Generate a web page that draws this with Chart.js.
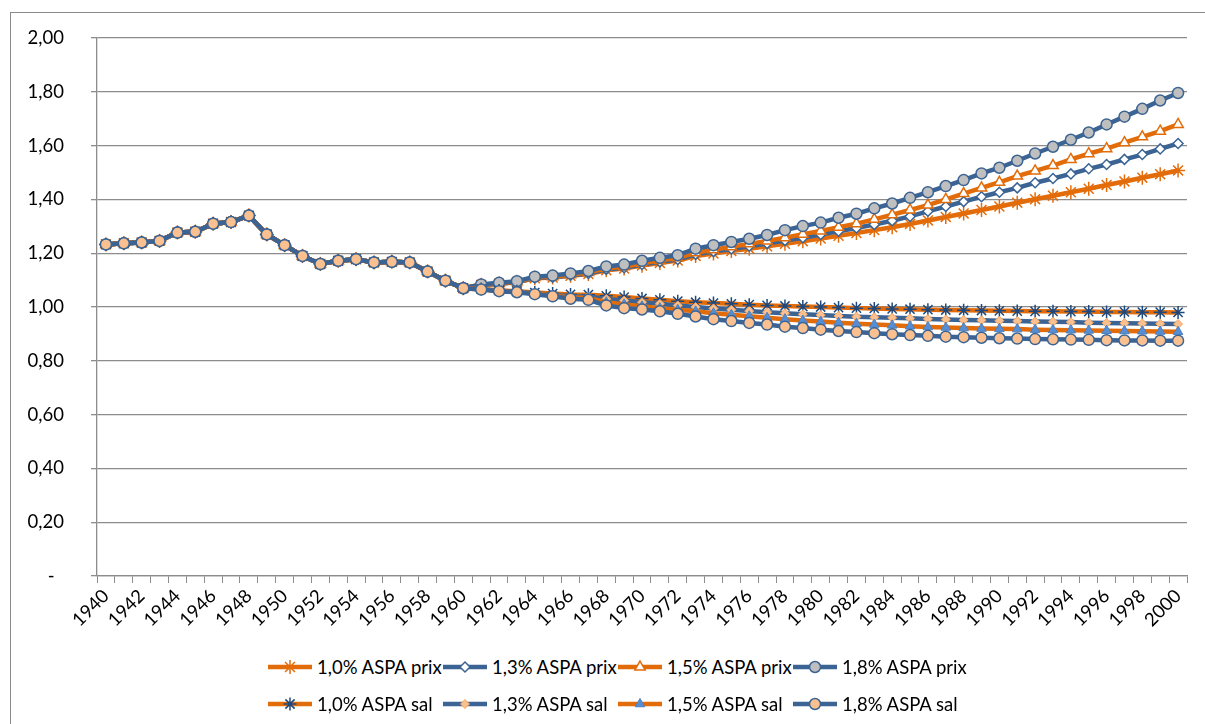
<!DOCTYPE html>
<html>
<head>
<meta charset="utf-8">
<script src="https://cdn.jsdelivr.net/npm/chart.js@4.4.0/dist/chart.umd.min.js"></script>
<style>
  body { margin:0; background:#fff; font-family: Lato, "Liberation Sans", sans-serif; }
  #wrap { position:relative; width:1205px; height:724px; overflow:hidden; }
  #frame { position:absolute; left:10px; top:12px; width:1200px; height:720px; border:1px solid #8a8a8a; box-sizing:border-box; }
  #chart { position:absolute; left:0; top:0; }
  #legend { position:absolute; left:268px; top:648px; width:720px; }
  .row { display:flex; height:37px; align-items:center; }
  .item { width:175px; display:flex; align-items:center; font-size:18.5px; color:#000; white-space:nowrap; }
  .item canvas { margin-right:5px; }
</style>
</head>
<body>
<div id="wrap">
  <div id="frame"></div>
  <canvas id="chart" width="1205" height="640"></canvas>
  <div id="legend"></div>
</div>
<script>
// années
const years = ["1940","1941","1942","1943","1944","1945","1946","1947","1948","1949",
  "1950","1951","1952","1953","1954","1955","1956","1957","1958","1959",
  "1960","1961","1962","1963","1964","1965","1966","1967","1968","1969",
  "1970","1971","1972","1973","1974","1975","1976","1977","1978","1979",
  "1980","1981","1982","1983","1984","1985","1986","1987","1988","1989",
  "1990","1991","1992","1993","1994","1995","1996","1997","1998","1999","2000"];

// 1940-1960, commun à toutes les séries
const base = [1.233,1.237,1.240,1.246,1.277,1.280,1.310,1.316,1.340,1.270,
  1.230,1.190,1.160,1.172,1.178,1.166,1.168,1.166,1.132,1.098,1.070];

// 1961-2000
const prix10 = [1.082,1.087,1.092,1.107,1.110,1.116,1.123,1.137,1.143,1.154,
  1.164,1.173,1.190,1.199,1.208,1.217,1.226,1.235,1.245,1.255,
  1.265,1.275,1.286,1.297,1.309,1.322,1.335,1.348,1.361,1.374,
  1.388,1.401,1.414,1.427,1.440,1.454,1.467,1.481,1.494,1.508];
const prix13 = [1.082,1.087,1.093,1.108,1.111,1.118,1.125,1.140,1.146,1.158,
  1.168,1.177,1.196,1.206,1.216,1.226,1.236,1.247,1.258,1.270,
  1.282,1.294,1.307,1.321,1.337,1.356,1.374,1.392,1.410,1.427,
  1.443,1.462,1.478,1.495,1.514,1.530,1.549,1.567,1.588,1.608];
const prix15 = [1.083,1.088,1.094,1.110,1.113,1.120,1.128,1.144,1.150,1.163,
  1.173,1.183,1.202,1.213,1.224,1.235,1.246,1.258,1.271,1.283,
  1.297,1.310,1.326,1.343,1.361,1.379,1.400,1.422,1.443,1.464,
  1.487,1.506,1.526,1.549,1.570,1.589,1.611,1.633,1.654,1.679];
const prix18 = [1.084,1.090,1.096,1.113,1.117,1.125,1.134,1.151,1.158,1.172,
  1.183,1.193,1.217,1.230,1.242,1.254,1.268,1.286,1.301,1.314,
  1.332,1.347,1.367,1.385,1.406,1.427,1.450,1.472,1.497,1.518,
  1.544,1.571,1.596,1.622,1.649,1.679,1.708,1.737,1.768,1.796];
const sal10 = [1.067,1.062,1.059,1.054,1.050,1.047,1.046,1.042,1.037,1.032,
  1.027,1.022,1.018,1.015,1.012,1.009,1.006,1.004,1.002,1.000,
  0.998,0.996,0.995,0.993,0.992,0.990,0.989,0.988,0.987,0.986,
  0.985,0.984,0.984,0.983,0.983,0.982,0.982,0.981,0.981,0.980];
const sal13 = [1.066,1.061,1.057,1.051,1.045,1.040,1.039,1.030,1.024,1.018,
  1.012,1.006,1.000,0.995,0.990,0.985,0.981,0.977,0.973,0.970,
  0.967,0.964,0.962,0.960,0.958,0.956,0.954,0.952,0.951,0.949,
  0.948,0.946,0.945,0.944,0.942,0.941,0.940,0.939,0.938,0.937];
const sal15 = [1.066,1.060,1.056,1.050,1.043,1.036,1.034,1.018,1.010,1.003,
  0.996,0.990,0.984,0.977,0.971,0.966,0.960,0.955,0.950,0.946,
  0.942,0.938,0.935,0.932,0.929,0.926,0.924,0.922,0.920,0.919,
  0.918,0.916,0.915,0.914,0.913,0.912,0.911,0.910,0.909,0.908];
const sal18 = [1.065,1.059,1.055,1.048,1.040,1.031,1.027,1.006,0.996,0.991,
  0.984,0.975,0.965,0.955,0.948,0.941,0.935,0.927,0.922,0.916,
  0.911,0.907,0.903,0.899,0.896,0.893,0.890,0.888,0.886,0.884,
  0.883,0.881,0.880,0.879,0.878,0.877,0.876,0.876,0.875,0.875];

const ORANGE = "#E36C0A";
const BLUE = "#3B6494";

const series = [
  { label:"1,0% ASPA prix", data:prix10, line:ORANGE, style:"star", r:7, fill:ORANGE, border:ORANGE, bw:1.5 },
  { label:"1,3% ASPA prix", data:prix13, line:BLUE, style:"rectRot", r:5, fill:"#ffffff", border:BLUE, bw:1.5 },
  { label:"1,5% ASPA prix", data:prix15, line:ORANGE, style:"triangle", r:6, fill:"#ffffff", border:ORANGE, bw:1.5 },
  { label:"1,8% ASPA prix", data:prix18, line:BLUE, style:"circle", r:5.5, fill:"#BFBFBF", border:BLUE, bw:1.5 },
  { label:"1,0% ASPA sal", data:sal10, line:ORANGE, style:"star", r:6.5, fill:"#1F497D", border:"#1F497D", bw:1.5 },
  { label:"1,3% ASPA sal", data:sal13, line:BLUE, style:"rectRot", r:4.5, fill:"#FAC08F", border:"#F4A460", bw:1 },
  { label:"1,5% ASPA sal", data:sal15, line:ORANGE, style:"triangle", r:5.5, fill:"#558ED5", border:"#4F81BD", bw:1 },
  { label:"1,8% ASPA sal", data:sal18, line:BLUE, style:"circle", r:5.5, fill:"#FAC08F", border:BLUE, bw:1.5 }
];

const datasets = series.map(function(s, i){
  return {
    label:s.label,
    data:base.concat(s.data),
    borderColor:s.line,
    backgroundColor:s.fill,
    borderWidth:4.5,
    pointStyle:s.style,
    pointRadius:s.r,
    pointBackgroundColor:s.fill,
    pointBorderColor:s.border,
    pointBorderWidth:s.bw,
    tension:0,
    order:series.length - i   // dernière série dessinée au-dessus
  };
});

const GRID = "#8C8C8C";
const FONT = { family:"Lato, 'Liberation Sans', sans-serif", size:18.5 };

new Chart(document.getElementById("chart"), {
  type:"line",
  data:{ labels:years, datasets:datasets },
  options:{
    responsive:false,
    animation:false,
    layout:{ padding:{ left:10, top:35, right:18, bottom:4 } },
    plugins:{ legend:{ display:false }, tooltip:{ enabled:false } },
    scales:{
      x:{
        offset:true,
        grid:{ offset:true, drawOnChartArea:false, color:GRID, tickLength:7, tickColor:GRID },
        border:{ color:GRID, width:1.3 },
        ticks:{
          autoSkip:false, maxRotation:45, minRotation:45, padding:2,
          color:"#000", font:FONT,
          callback:function(v, i){ return i % 2 === 0 ? years[i] : ""; }
        },
        afterFit:function(s){ s.height = 60; }
      },
      y:{
        min:0, max:2,
        grid:{ color:GRID, lineWidth:1.3, tickLength:6, tickColor:GRID },
        border:{ color:GRID, width:1.3 },
        ticks:{
          stepSize:0.2, padding:27, color:"#000", font:FONT,
          callback:function(v){ return Math.abs(v) < 1e-9 ? "-  " : v.toFixed(2).replace(".", ","); }
        },
        afterFit:function(s){ s.width = 87; }
      }
    }
  }
});

// légende : trait + marqueur
function glyph(s){
  const c = document.createElement("canvas");
  c.width = 44; c.height = 20;
  const ctx = c.getContext("2d");
  ctx.strokeStyle = s.line; ctx.lineWidth = 4.5;
  ctx.beginPath(); ctx.moveTo(0, 10); ctx.lineTo(44, 10); ctx.stroke();
  ctx.fillStyle = s.fill; ctx.strokeStyle = s.border; ctx.lineWidth = s.bw;
  Chart.helpers.drawPoint(ctx, { pointStyle:s.style, radius:s.r, rotation:0, borderWidth:s.bw }, 22, 10);
  return c;
}
const legend = document.getElementById("legend");
for (let r = 0; r < 2; r++) {
  const row = document.createElement("div");
  row.className = "row";
  for (let k = 0; k < 4; k++) {
    const s = series[r * 4 + k];
    const item = document.createElement("div");
    item.className = "item";
    item.appendChild(glyph(s));
    const t = document.createElement("span");
    t.textContent = s.label;
    item.appendChild(t);
    row.appendChild(item);
  }
  legend.appendChild(row);
}
</script>
</body>
</html>
